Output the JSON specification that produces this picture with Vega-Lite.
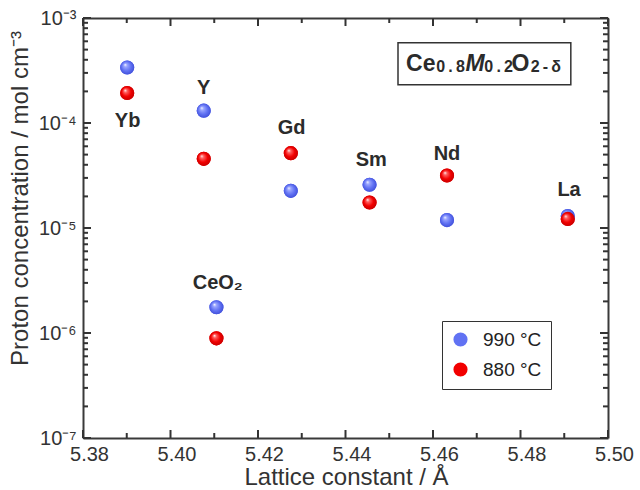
{
  "$schema": "https://vega.github.io/schema/vega-lite/v6.json",
  "width": 525,
  "height": 420,
  "autosize": {"type": "none"},
  "padding": {"left": 83, "top": 18, "right": 32, "bottom": 52},
  "background": "white",
  "config": {"view": {"stroke": null}, "font": "Liberation Sans"},
  "datasets": {
    "points": [
      {"element": "Yb", "temp": "990 °C", "lattice": 5.3901, "conc": 3.38e-4},
      {"element": "Y", "temp": "990 °C", "lattice": 5.4076, "conc": 1.31e-4},
      {"element": "CeO2", "temp": "990 °C", "lattice": 5.4105, "conc": 1.76e-6},
      {"element": "Gd", "temp": "990 °C", "lattice": 5.4275, "conc": 2.26e-5},
      {"element": "Sm", "temp": "990 °C", "lattice": 5.4455, "conc": 2.58e-5},
      {"element": "Nd", "temp": "990 °C", "lattice": 5.4632, "conc": 1.19e-5},
      {"element": "La", "temp": "990 °C", "lattice": 5.4908, "conc": 1.30e-5},
      {"element": "Yb", "temp": "880 °C", "lattice": 5.3901, "conc": 1.93e-4},
      {"element": "Y", "temp": "880 °C", "lattice": 5.4076, "conc": 4.56e-5},
      {"element": "CeO2", "temp": "880 °C", "lattice": 5.4105, "conc": 8.9e-7},
      {"element": "Gd", "temp": "880 °C", "lattice": 5.4275, "conc": 5.16e-5},
      {"element": "Sm", "temp": "880 °C", "lattice": 5.4455, "conc": 1.75e-5},
      {"element": "Nd", "temp": "880 °C", "lattice": 5.4632, "conc": 3.16e-5},
      {"element": "La", "temp": "880 °C", "lattice": 5.4908, "conc": 1.22e-5}
    ],
    "labels": [
      {"name": "Yb", "x": 5.3902, "y": 1.056e-4},
      {"name": "Y", "x": 5.4076, "y": 2.17e-4},
      {"name": "Gd", "x": 5.4277, "y": 8.93e-5},
      {"name": "Sm", "x": 5.4459, "y": 4.40e-5},
      {"name": "Nd", "x": 5.4632, "y": 5.08e-5},
      {"name": "La", "x": 5.4911, "y": 2.28e-5},
      {"name": "CeO₂", "x": 5.4108, "y": 3.00e-6}
    ],
    "formula": [
      {"part": "Ce", "role": "main", "x": 5.4572, "y": 3.145e-4},
      {"part": "0\u2009.\u20098", "role": "sub", "x": 5.4640, "y": 3.03e-4},
      {"part": "M", "role": "italic", "x": 5.4696, "y": 3.145e-4},
      {"part": "0\u2009.\u20092", "role": "sub", "x": 5.4750, "y": 3.03e-4},
      {"part": "O", "role": "main", "x": 5.4800, "y": 3.145e-4},
      {"part": "2\u2009-\u2009δ", "role": "sub", "x": 5.4858, "y": 3.03e-4}
    ],
    "box": [
      {"x1": 5.4520, "x2": 5.4915, "y1": 2.31e-4, "y2": 5.81e-4}
    ],
    "xticks": [
      {"v": 5.38, "kind": "major"}, {"v": 5.39, "kind": "minor"}, {"v": 5.40, "kind": "major"}, {"v": 5.41, "kind": "minor"},
      {"v": 5.42, "kind": "major"}, {"v": 5.43, "kind": "minor"}, {"v": 5.44, "kind": "major"}, {"v": 5.45, "kind": "minor"},
      {"v": 5.46, "kind": "major"}, {"v": 5.47, "kind": "minor"}, {"v": 5.48, "kind": "major"}, {"v": 5.49, "kind": "minor"},
      {"v": 5.50, "kind": "major"}
    ],
    "yticks": [
      {"v": 1e-7, "kind": "major"}, {"v": 2e-7, "kind": "minor"}, {"v": 3e-7, "kind": "minor"}, {"v": 4e-7, "kind": "minor"}, {"v": 5e-7, "kind": "minor"}, {"v": 6e-7, "kind": "minor"}, {"v": 7e-7, "kind": "minor"}, {"v": 8e-7, "kind": "minor"}, {"v": 9e-7, "kind": "minor"},
      {"v": 1e-6, "kind": "major"}, {"v": 2e-6, "kind": "minor"}, {"v": 3e-6, "kind": "minor"}, {"v": 4e-6, "kind": "minor"}, {"v": 5e-6, "kind": "minor"}, {"v": 6e-6, "kind": "minor"}, {"v": 7e-6, "kind": "minor"}, {"v": 8e-6, "kind": "minor"}, {"v": 9e-6, "kind": "minor"},
      {"v": 1e-5, "kind": "major"}, {"v": 2e-5, "kind": "minor"}, {"v": 3e-5, "kind": "minor"}, {"v": 4e-5, "kind": "minor"}, {"v": 5e-5, "kind": "minor"}, {"v": 6e-5, "kind": "minor"}, {"v": 7e-5, "kind": "minor"}, {"v": 8e-5, "kind": "minor"}, {"v": 9e-5, "kind": "minor"},
      {"v": 1e-4, "kind": "major"}, {"v": 2e-4, "kind": "minor"}, {"v": 3e-4, "kind": "minor"}, {"v": 4e-4, "kind": "minor"}, {"v": 5e-4, "kind": "minor"}, {"v": 6e-4, "kind": "minor"}, {"v": 7e-4, "kind": "minor"}, {"v": 8e-4, "kind": "minor"}, {"v": 9e-4, "kind": "minor"},
      {"v": 1e-3, "kind": "major"}
    ]
  },
  "resolve": {"axis": {"x": "independent", "y": "independent"}},
  "layer": [
    {
      "data": {"name": "box"},
      "mark": {"type": "rect", "fill": "white", "stroke": "#333333", "strokeWidth": 1.5},
      "encoding": {
        "x": {"field": "x1", "type": "quantitative", "scale": {"domain": [5.38, 5.5], "nice": false, "zero": false},
          "axis": {"orient": "top", "ticks": false, "labels": false, "title": null, "grid": false, "domain": true, "domainColor": "#3a3a3a", "domainWidth": 2}},
        "x2": {"field": "x2"},
        "y": {"field": "y1", "type": "quantitative", "scale": {"type": "log", "domain": [1e-7, 1e-3], "nice": false},
          "axis": {"orient": "right", "ticks": false, "labels": false, "title": null, "grid": false, "domain": true, "domainColor": "#3a3a3a", "domainWidth": 2}},
        "y2": {"field": "y2"}
      }
    },
    {
      "data": {"name": "xticks"},
      "transform": [{"filter": "datum.kind == 'major'"}],
      "mark": {"type": "rule", "color": "#333333", "strokeWidth": 2, "opacity": 1},
      "encoding": {
        "x": {"field": "v", "type": "quantitative", "scale": {"domain": [5.38, 5.5], "nice": false, "zero": false}, "axis": null},
        "y": {"datum": 1e-7, "type": "quantitative", "scale": {"type": "log", "domain": [1e-7, 1e-3], "nice": false}, "axis": null},
        "y2": {"datum": 1.1917e-7}
      }
    },
    {
      "data": {"name": "xticks"},
      "transform": [{"filter": "datum.kind == 'minor'"}],
      "mark": {"type": "rule", "color": "#333333", "strokeWidth": 2, "opacity": 1},
      "encoding": {
        "x": {"field": "v", "type": "quantitative", "scale": {"domain": [5.38, 5.5], "nice": false, "zero": false}, "axis": null},
        "y": {"datum": 1e-7, "type": "quantitative", "scale": {"type": "log", "domain": [1e-7, 1e-3], "nice": false}, "axis": null},
        "y2": {"datum": 1.116e-7}
      }
    },
    {
      "data": {"name": "xticks"},
      "transform": [{"filter": "datum.kind == 'major'"}],
      "mark": {"type": "rule", "color": "#333333", "strokeWidth": 2, "opacity": 1},
      "encoding": {
        "x": {"field": "v", "type": "quantitative", "scale": {"domain": [5.38, 5.5], "nice": false, "zero": false}, "axis": null},
        "y": {"datum": 1e-3, "type": "quantitative", "scale": {"type": "log", "domain": [1e-7, 1e-3], "nice": false}, "axis": null},
        "y2": {"datum": 8.391e-4}
      }
    },
    {
      "data": {"name": "xticks"},
      "transform": [{"filter": "datum.kind == 'minor'"}],
      "mark": {"type": "rule", "color": "#333333", "strokeWidth": 2, "opacity": 1},
      "encoding": {
        "x": {"field": "v", "type": "quantitative", "scale": {"domain": [5.38, 5.5], "nice": false, "zero": false}, "axis": null},
        "y": {"datum": 1e-3, "type": "quantitative", "scale": {"type": "log", "domain": [1e-7, 1e-3], "nice": false}, "axis": null},
        "y2": {"datum": 8.96e-4}
      }
    },
    {
      "data": {"name": "yticks"},
      "transform": [{"filter": "datum.kind == 'major'"}],
      "mark": {"type": "rule", "color": "#333333", "strokeWidth": 2, "opacity": 1},
      "encoding": {
        "x": {"datum": 5.38, "type": "quantitative", "scale": {"domain": [5.38, 5.5], "nice": false, "zero": false}, "axis": null},
        "x2": {"datum": 5.38183},
        "y": {"field": "v", "type": "quantitative", "scale": {"type": "log", "domain": [1e-7, 1e-3], "nice": false}, "axis": null}
      }
    },
    {
      "data": {"name": "yticks"},
      "transform": [{"filter": "datum.kind == 'minor'"}],
      "mark": {"type": "rule", "color": "#333333", "strokeWidth": 2, "opacity": 1},
      "encoding": {
        "x": {"datum": 5.38, "type": "quantitative", "scale": {"domain": [5.38, 5.5], "nice": false, "zero": false}, "axis": null},
        "x2": {"datum": 5.38114},
        "y": {"field": "v", "type": "quantitative", "scale": {"type": "log", "domain": [1e-7, 1e-3], "nice": false}, "axis": null}
      }
    },
    {
      "data": {"name": "yticks"},
      "transform": [{"filter": "datum.kind == 'major'"}],
      "mark": {"type": "rule", "color": "#333333", "strokeWidth": 2, "opacity": 1},
      "encoding": {
        "x": {"datum": 5.5, "type": "quantitative", "scale": {"domain": [5.38, 5.5], "nice": false, "zero": false}, "axis": null},
        "x2": {"datum": 5.49817},
        "y": {"field": "v", "type": "quantitative", "scale": {"type": "log", "domain": [1e-7, 1e-3], "nice": false}, "axis": null}
      }
    },
    {
      "data": {"name": "yticks"},
      "transform": [{"filter": "datum.kind == 'minor'"}],
      "mark": {"type": "rule", "color": "#333333", "strokeWidth": 2, "opacity": 1},
      "encoding": {
        "x": {"datum": 5.5, "type": "quantitative", "scale": {"domain": [5.38, 5.5], "nice": false, "zero": false}, "axis": null},
        "x2": {"datum": 5.49886},
        "y": {"field": "v", "type": "quantitative", "scale": {"type": "log", "domain": [1e-7, 1e-3], "nice": false}, "axis": null}
      }
    },
    {
      "data": {"name": "formula"},
      "transform": [{"filter": "datum.role == 'main'"}],
      "mark": {"type": "text", "fontSize": 23, "fontWeight": "bold", "color": "#2b2b2b", "align": "center", "baseline": "alphabetic"},
      "encoding": {
        "x": {"field": "x", "type": "quantitative", "scale": {"domain": [5.38, 5.5], "nice": false, "zero": false}, "axis": null},
        "y": {"field": "y", "type": "quantitative", "scale": {"type": "log", "domain": [1e-7, 1e-3], "nice": false}, "axis": null},
        "text": {"field": "part"}
      }
    },
    {
      "data": {"name": "formula"},
      "transform": [{"filter": "datum.role == 'italic'"}],
      "mark": {"type": "text", "fontSize": 23, "fontWeight": "bold", "fontStyle": "italic", "color": "#2b2b2b", "align": "center", "baseline": "alphabetic"},
      "encoding": {
        "x": {"field": "x", "type": "quantitative", "scale": {"domain": [5.38, 5.5], "nice": false, "zero": false}, "axis": null},
        "y": {"field": "y", "type": "quantitative", "scale": {"type": "log", "domain": [1e-7, 1e-3], "nice": false}, "axis": null},
        "text": {"field": "part"}
      }
    },
    {
      "data": {"name": "formula"},
      "transform": [{"filter": "datum.role == 'sub'"}],
      "mark": {"type": "text", "fontSize": 16, "fontWeight": "bold", "color": "#2b2b2b", "align": "center", "baseline": "alphabetic"},
      "encoding": {
        "x": {"field": "x", "type": "quantitative", "scale": {"domain": [5.38, 5.5], "nice": false, "zero": false}, "axis": null},
        "y": {"field": "y", "type": "quantitative", "scale": {"type": "log", "domain": [1e-7, 1e-3], "nice": false}, "axis": null},
        "text": {"field": "part"}
      }
    },
    {
      "data": {"name": "labels"},
      "mark": {"type": "text", "fontSize": 20, "fontWeight": "bold", "color": "#2b2b2b", "align": "center", "baseline": "middle"},
      "encoding": {
        "x": {"field": "x", "type": "quantitative", "scale": {"domain": [5.38, 5.5], "nice": false, "zero": false}, "axis": null},
        "y": {"field": "y", "type": "quantitative", "scale": {"type": "log", "domain": [1e-7, 1e-3], "nice": false}, "axis": null},
        "text": {"field": "name"}
      }
    },
    {
      "data": {"name": "points"},
      "mark": {"type": "circle", "size": 200, "opacity": 1, "strokeWidth": 0},
      "encoding": {
        "x": {"field": "lattice", "type": "quantitative", "scale": {"domain": [5.38, 5.5], "nice": false, "zero": false},
          "axis": {"orient": "bottom", "values": [5.38, 5.4, 5.42, 5.44, 5.46, 5.48, 5.5], "format": ".2f",
            "grid": false, "labelFlush": false, "labelOverlap": false, "domain": true, "domainColor": "#3a3a3a", "domainWidth": 2,
            "ticks": false,
            "labelFontSize": 20, "labelColor": "#333333", "labelPadding": 6, "labelOffset": 6,
            "title": "Lattice constant / Å", "titleFontSize": 24, "titleFontWeight": "normal", "titleColor": "#333333",
            "titleX": 263, "titleY": 39, "titleBaseline": "middle", "titleAlign": "center"}},
        "y": {"field": "conc", "type": "quantitative", "scale": {"type": "log", "domain": [1e-7, 1e-3], "nice": false},
          "axis": {"orient": "left", "values": [1e-7, 1e-6, 1e-5, 1e-4, 1e-3],
            "labelExpr": "'10' + (round(log(datum.value)/LN10) == -3 ? '⁻³' : round(log(datum.value)/LN10) == -4 ? '⁻⁴' : round(log(datum.value)/LN10) == -5 ? '⁻⁵' : round(log(datum.value)/LN10) == -6 ? '⁻⁶' : '⁻⁷')",
            "grid": false, "labelFlush": false, "labelOverlap": false, "domain": true, "domainColor": "#3a3a3a", "domainWidth": 2,
            "ticks": false,
            "labelFontSize": 20, "labelColor": "#333333", "labelPadding": 7,
            "title": "Proton concentration / mol cm⁻³", "titleFontSize": 24, "titleFontWeight": "normal", "titleColor": "#333333",
            "titleX": -63, "titleY": 180, "titleAngle": -90, "titleBaseline": "middle", "titleAlign": "center"}},
        "color": {"field": "temp", "type": "nominal",
          "scale": {"domain": ["990 °C", "880 °C"], "range": ["#6172f3", "#f20000"]},
          "legend": {"orient": "none", "legendX": 359, "legendY": 303, "title": null, "direction": "vertical",
            "labelFontSize": 19, "labelColor": "#222222", "symbolSize": 200, "symbolType": "circle", "symbolStrokeWidth": 0,
            "strokeColor": "#333333", "fillColor": "white", "padding": 9, "rowPadding": 10, "labelOffset": 13, "labelLimit": 200}}
      }
    },
    {
      "data": {"name": "points"},
      "transform": [{"filter": "datum.temp == '990 °C'"}],
      "mark": {"type": "circle", "size": 200, "opacity": 1, "strokeWidth": 0,
        "fill": {"gradient": "radial", "x1": 0.35, "y1": 0.3, "r1": 0, "x2": 0.5, "y2": 0.5, "r2": 0.55,
          "stops": [{"offset": 0, "color": "#ffffff"}, {"offset": 0.22, "color": "#9aa6ff"}, {"offset": 0.6, "color": "#6172f3"}, {"offset": 1, "color": "#3c4bd6"}]}},
      "encoding": {
        "x": {"field": "lattice", "type": "quantitative", "scale": {"domain": [5.38, 5.5], "nice": false, "zero": false}, "axis": null},
        "y": {"field": "conc", "type": "quantitative", "scale": {"type": "log", "domain": [1e-7, 1e-3], "nice": false}, "axis": null}
      }
    },
    {
      "data": {"name": "points"},
      "transform": [{"filter": "datum.temp == '880 °C'"}],
      "mark": {"type": "circle", "size": 200, "opacity": 1, "strokeWidth": 0,
        "fill": {"gradient": "radial", "x1": 0.35, "y1": 0.3, "r1": 0, "x2": 0.5, "y2": 0.5, "r2": 0.55,
          "stops": [{"offset": 0, "color": "#ffffff"}, {"offset": 0.22, "color": "#ff6060"}, {"offset": 0.6, "color": "#f20000"}, {"offset": 1, "color": "#c00000"}]}},
      "encoding": {
        "x": {"field": "lattice", "type": "quantitative", "scale": {"domain": [5.38, 5.5], "nice": false, "zero": false}, "axis": null},
        "y": {"field": "conc", "type": "quantitative", "scale": {"type": "log", "domain": [1e-7, 1e-3], "nice": false}, "axis": null}
      }
    }
  ]
}
